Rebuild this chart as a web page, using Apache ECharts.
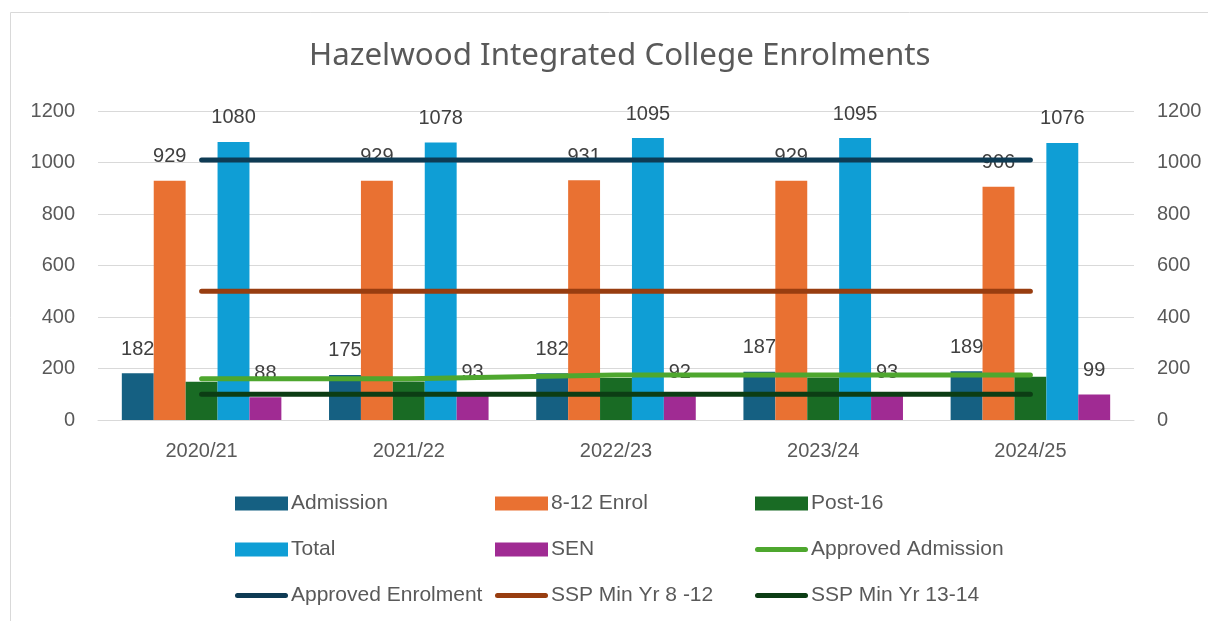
<!DOCTYPE html>
<html>
<head>
<meta charset="utf-8">
<script src="https://cdn.jsdelivr.net/npm/echarts@6/dist/echarts.min.js"></script>
<style>html,body{margin:0;padding:0;background:#fff}#c{width:1208px;height:621px}</style>
</head>
<body>
<div id="c"></div>
<script>
const categories = ['2020/21', '2021/22', '2022/23', '2023/24', '2024/25'];
const admission = [182, 175, 182, 187, 189];
const enrol812 = [929, 929, 931, 929, 906];
const post16 = [149, 150, 163, 165, 168];
const total = [1080, 1078, 1095, 1095, 1076];
const sen = [88, 93, 92, 93, 99];
const approvedAdmission = [160, 160, 175, 175, 175];
const approvedEnrolment = [1010, 1010, 1010, 1010, 1010];
const sspMin812 = [500, 500, 500, 500, 500];
const sspMin1314 = [100, 100, 100, 100, 100];
const yTicks = { min: 0, max: 1200, interval: 200 };

const FONT = '"Liberation Sans Narrow", "Liberation Sans", sans-serif';
const AX = '"Liberation Sans", Arial, sans-serif';
const TITLE = '"Noto Sans", sans-serif';
const LINE_ICON = 'path://M2.5,0 L50.5,0 A2.5,2.5 0 0 1 50.5,5 L2.5,5 A2.5,2.5 0 0 1 2.5,0 Z';
const chart = echarts.init(document.getElementById('c'), null, { renderer: 'canvas' });

function barSeries(name, data, color, showLabel) {
  return {
    name, type: 'bar', data, barGap: '0%', barCategoryGap: '23%',
    itemStyle: { color },
    label: { show: showLabel, position: 'top', distance: 14, color: '#404040', fontSize: 20, fontFamily: AX },
    z: 2
  };
}
function lineSeries(name, data, color) {
  return {
    name, type: 'line', data, symbol: 'none', showSymbol: false,
    lineStyle: { color, width: 5, cap: 'round' }, itemStyle: { color },
    z: 3
  };
}
const legendBase = {
  orient: 'vertical', top: 493, itemWidth: 53, itemHeight: 14, itemGap: 25, padding: 0,
  selectedMode: false,
  textStyle: { fontFamily: FONT, fontSize: 21, color: '#595959', lineHeight: 20, padding: [0, 0, 0, -2] }
};
const bi = n => ({ name: n, icon: 'rect' });
const li = n => ({ name: n, icon: LINE_ICON });
const axLabel = { color: '#595959', fontSize: 20, fontFamily: AX };
chart.setOption({
  animation: false,
  title: {
    text: 'Hazelwood Integrated College Enrolments', left: 304, top: 36,
    textStyle: { fontFamily: TITLE, fontSize: 31.3, fontWeight: 'normal', color: '#595959' }
  },
  graphic: [{ type: 'rect', shape: { x: 10.5, y: 12.5, width: 1200, height: 620 }, style: { fill: null, stroke: '#d9d9d9', lineWidth: 1 }, silent: true }],
  legend: [
    Object.assign({}, legendBase, { left: 235, data: [bi('Admission'), bi('Total'), li('Approved Enrolment')] }),
    Object.assign({}, legendBase, { left: 495, data: [bi('8-12 Enrol'), bi('SEN'), li('SSP Min Yr 8 -12')] }),
    Object.assign({}, legendBase, { left: 755, data: [bi('Post-16'), li('Approved Admission'), li('SSP Min Yr 13-14')] })
  ],
  grid: { left: 98, right: 74, top: 111, bottom: 201, containLabel: false },
  xAxis: {
    type: 'category', data: categories,
    axisLine: { lineStyle: { color: '#d9d9d9', width: 1 } },
    axisTick: { show: false },
    axisLabel: Object.assign({ margin: 21 }, axLabel)
  },
  yAxis: [
    {
      type: 'value', min: yTicks.min, max: yTicks.max, interval: yTicks.interval,
      axisLabel: Object.assign({ margin: 23, formatter: v => String(v) }, axLabel),
      splitLine: { lineStyle: { color: '#d9d9d9', width: 1 } },
      axisLine: { show: false }, axisTick: { show: false }
    },
    {
      type: 'value', min: yTicks.min, max: yTicks.max, interval: yTicks.interval, position: 'right',
      axisLabel: Object.assign({ margin: 23, formatter: v => String(v) }, axLabel),
      splitLine: { show: false }, axisLine: { show: false }, axisTick: { show: false }
    }
  ],
  series: [
    barSeries('Admission', admission, '#156082', true),
    barSeries('8-12 Enrol', enrol812, '#E97132', true),
    barSeries('Post-16', post16, '#196B24', false),
    barSeries('Total', total, '#0F9ED5', true),
    barSeries('SEN', sen, '#A02B93', true),
    lineSeries('Approved Admission', approvedAdmission, '#4EA72E'),
    lineSeries('Approved Enrolment', approvedEnrolment, '#0E3B54'),
    lineSeries('SSP Min Yr 8 -12', sspMin812, '#983D10'),
    lineSeries('SSP Min Yr 13-14', sspMin1314, '#0C3D14')
  ]
});
</script>
</body>
</html>
